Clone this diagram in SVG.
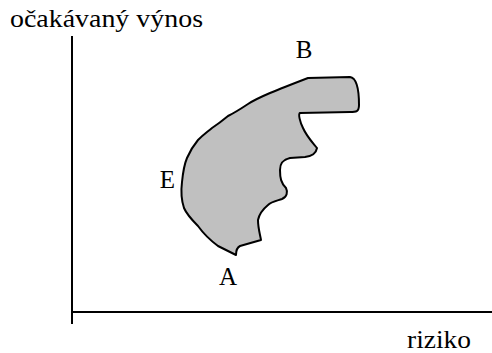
<svg xmlns="http://www.w3.org/2000/svg" width="492" height="353" viewBox="0 0 492 353">
<style>
.ax{stroke:#000;stroke-width:2;fill:none}
</style>
<rect width="492" height="353" fill="#fff"/>
<g id="axes">
<line class="ax" x1="72" y1="36" x2="72" y2="324"/>
<line class="ax" x1="71" y1="312" x2="492" y2="312"/>
</g>
<g id="region">
<path d="M308,78 L350,77 C357,78 359,92 359,105 C359,112 356,112 350,112 L300,113 C298,114 300,122 303,128 C307,137 313,143 317,148 C316,154 312,156 305,157 L290,158 C282,160 280,164 280,170 C280,178 281,183 286,188 C288,192 287,197 282,199 C276,201 271,202 268,205 C262,210 259,215 258,220 C258,228 260,234 261,240 L240,246 C236,248 236,252 236,255 C230,252 224,249 218,246 C210,240 203,233 198,226 C192,220 187,215 184,208 C181,199 181,190 182,182 C183,172 184,165 187,158 C190,151 193,146 198,140 C203,135 206,133 212,128 C218,124 222,121 228,116 C236,112 242,108 248,104 C254,100 263,96 270,93 C282,88 295,83 308,78 Z" fill="#c0c0c0" stroke="#000" stroke-width="2" stroke-linejoin="round"/>
</g>
<g id="labels" font-family="Liberation Serif, DejaVu Serif, serif" font-size="25" fill="#000">
<text x="10" y="27" textLength="193" lengthAdjust="spacingAndGlyphs">očakávaný výnos</text>
<text x="407" y="348" textLength="64" lengthAdjust="spacingAndGlyphs">riziko</text>
<text x="304" y="58" text-anchor="middle">B</text>
<text x="167.5" y="188" text-anchor="middle">E</text>
<text x="228" y="285" text-anchor="middle">A</text>
</g>
</svg>
